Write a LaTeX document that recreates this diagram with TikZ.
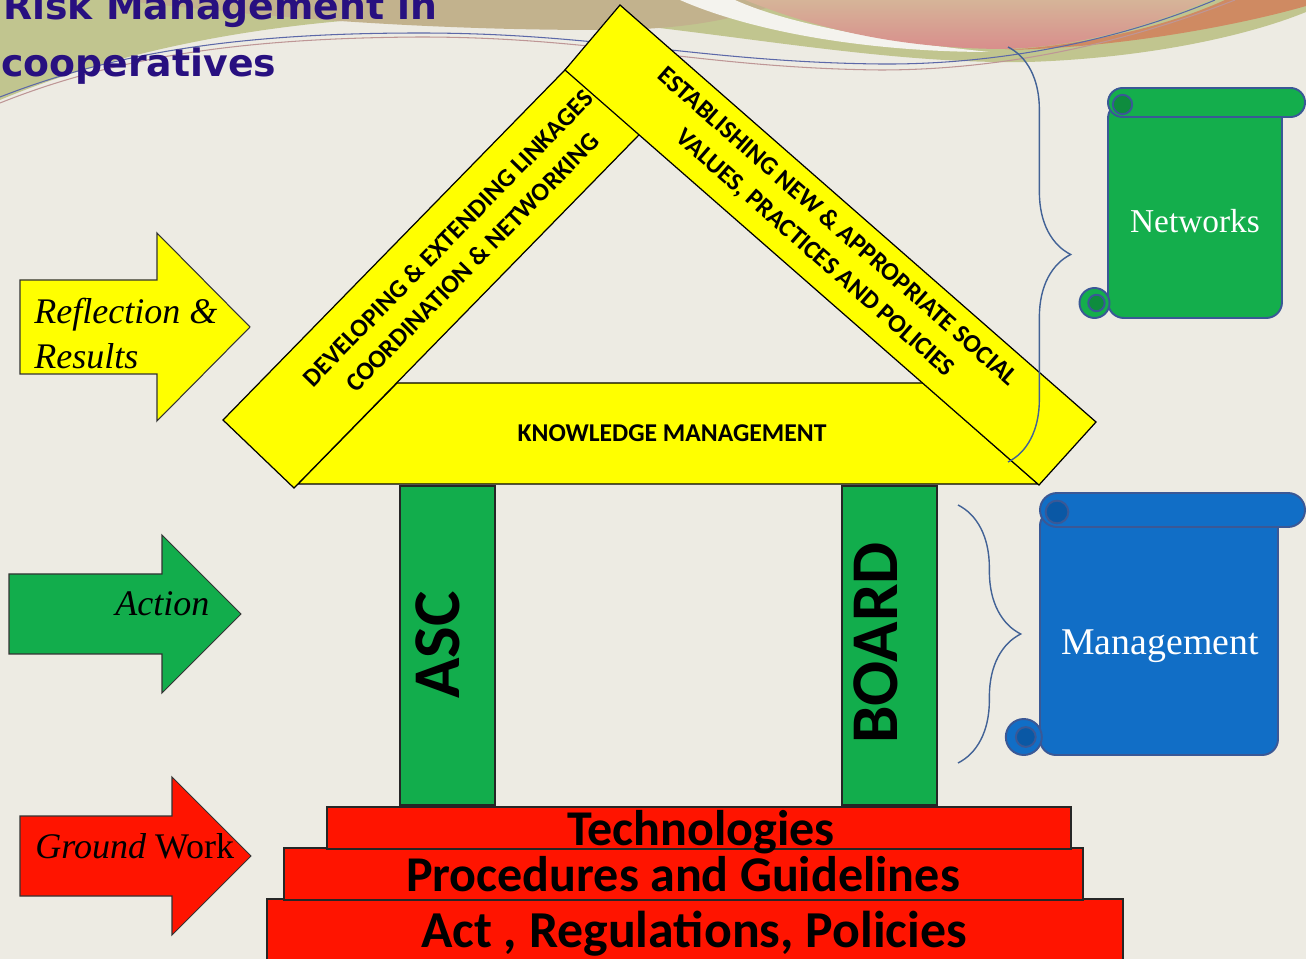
\documentclass[tikz,border=0pt]{standalone}
\usepackage{fontspec}
\usepackage{tikz}
\usetikzlibrary{positioning,calc,decorations.pathreplacing}
\setmainfont{Liberation Serif}
\newfontfamily\calibri{Carlito}
\newfontfamily\comic{DejaVu Sans}

\definecolor{paper}{RGB}{237,235,227}
\definecolor{tanband}{RGB}{194,178,141}
\definecolor{oliveband}{RGB}{193,197,143}
\definecolor{pinktop}{RGB}{214,180,152}
\definecolor{pinkband}{RGB}{216,142,140}
\definecolor{orangeband}{RGB}{207,138,98}
\definecolor{themeblue}{RGB}{92,104,168}
\definecolor{themerose}{RGB}{190,150,150}
\definecolor{titleink}{RGB}{40,16,128}
\definecolor{roofyellow}{RGB}{255,255,0}
\definecolor{pillargreen}{RGB}{18,173,76}
\definecolor{slabred}{RGB}{255,20,0}
\definecolor{scrollgreen}{RGB}{20,174,76}
\definecolor{curlgreen}{RGB}{14,140,62}
\definecolor{scrollblue}{RGB}{17,110,198}
\definecolor{curlblue}{RGB}{10,88,165}
\definecolor{scrollrim}{RGB}{58,88,150}
\definecolor{bracerim}{RGB}{66,98,150}

\tikzset{
	beam/.style={draw=black, line width=0.7pt, fill=roofyellow},
	pillar/.style={draw=black!85, line width=0.7pt, fill=pillargreen},
	slab/.style={draw=black!85, line width=0.7pt, fill=slabred},
	rim/.style={draw=scrollrim, line width=1.1pt},
	curly/.style={draw=bracerim, line width=0.8pt, decorate, decoration={brace, amplitude=35.7pt}},
	rooftext/.style={font=\calibri\bfseries\fontsize{14.6}{19.5}\selectfont, align=center, inner sep=0pt},
	pillartext/.style={font=\calibri\bfseries\fontsize{38}{40}\selectfont, inner sep=0pt, rotate=90, anchor=base},
	slabtext/.style={font=\calibri\bfseries\fontsize{28.5}{30}\selectfont, inner sep=0pt, anchor=base},
	arrowtext/.style={font=\itshape\fontsize{20.5}{25.5}\selectfont, inner sep=0pt},
	scrolltext/.style={text=white, inner sep=0pt, anchor=base},
	titletext/.style={font=\comic\bfseries\fontsize{21.5}{26}\selectfont, text=titleink, inner sep=0pt, anchor=base west}
}

\newcommand{\fatarrow}[7]
{
	% fill, tail x, neck x, tip x, middle y, half shaft, half head
	\path [draw=black!80, line width=0.6pt, fill=#1] (#2,#5-#6) -- (#3,#5-#6) -- (#3,#5-#7) -- (#4,#5) -- (#3,#5+#7) -- (#3,#5+#6) -- (#2,#5+#6) -- cycle;
}
\newcommand{\scroll}[8]
{
	% fill, curl fill, left x, roll top, roll height, right x, bottom y, curl radius
	\path [rim, fill=#1, rounded corners=9pt] (#3,#4+#5/2) rectangle (#6,#7);
	\path [rim, fill=#1] (1305-#5/2,#4) -- (#3+#5/2,#4) arc[start angle=270, end angle=90, radius=#5/2] -- (1305-#5/2,#4+#5) arc[start angle=90, end angle=-90, radius=#5/2] -- cycle;
	\path [rim, fill=#2] (#3+#5/2,#4+#5/2+2) circle[radius=#5/3];
	\path [rim, fill=#1] (#3-0.9*#8,#7-#8) circle[radius=#8];
	\path [rim, fill=#2] (#3-0.9*#8+2,#7-#8) circle[radius=#8*0.55];
}

\begin{document}
\begin{tikzpicture}[x=0.02cm, y=-0.02cm]
	\useasboundingbox (0,0) rectangle (1306,959);
	\clip (0,0) rectangle (1306,959);
	\fill[paper] (0,0) rectangle (1306,959);
	
	% theme bands
	\fill[oliveband] (0,0) -- (0,100) .. controls (130,45) and (300,15) .. (480,15) .. controls (650,15) and (850,65) .. (1028,62) .. controls (1150,58) and (1250,35) .. (1306,12) -- (1306,0) -- cycle;
	\fill[tanband] (120,0) .. controls (300,22) and (460,30) .. (600,30) .. controls (690,30) and (740,18) .. (790,0) -- cycle;
	\fill[paper!60!white] (680,0) .. controls (760,35) and (880,52) .. (990,52) .. controls (890,42) and (790,25) .. (735,0) -- cycle;
	\shade[top color=pinktop, bottom color=pinkband] (745,0) .. controls (820,30) and (900,48) .. (1000,49) .. controls (1080,48) and (1150,25) .. (1210,0) -- cycle;
	\fill[orangeband] (1005,50) .. controls (1120,48) and (1240,25) .. (1306,6) -- (1306,0) -- (1225,0) .. controls (1170,25) and (1090,45) .. (1005,50) -- cycle;
	\draw[themerose, line width=0.6pt] (0,103) .. controls (120,55) and (250,38) .. (420,37) .. controls (600,37) and (700,68) .. (880,70) .. controls (1000,70) and (1120,45) .. (1235,0);
	\draw[themeblue, line width=0.6pt] (0,97) .. controls (120,50) and (250,33) .. (420,33) .. controls (600,33) and (700,62) .. (880,64) .. controls (1000,65) and (1120,40) .. (1215,0);
	
	\node[titletext] (title1) at (3,20) {Risk Management in};
	\node[titletext] (title2) at (1,77) {cooperatives};
	
	% roof
	\path[beam] (298,484) -- (397,383) -- (923,383) -- (1038,484) -- cycle;
	\path[beam] (223,420) -- (294,488) -- (675,98) -- (604,30) -- cycle;
	\path[beam] (620,5) -- (1096,422) -- (1039,485) -- (565,70) -- cycle;
	\node[rooftext, rotate=45.7] (linkages) at (460,250) {DEVELOPING \& EXTENDING LINKAGES\\COORDINATION \& NETWORKING};
	\node[rooftext, rotate=-41.2] (values) at (826,240) {ESTABLISHING NEW \& APPROPRIATE SOCIAL\\VALUES, PRACTICES AND POLICIES};
	\node[rooftext] (km) at (672,433) {KNOWLEDGE MANAGEMENT};
	
	% pillars
	\path[pillar] (400,486) rectangle (495,805);
	\path[pillar] (842,486) rectangle (937,805);
	\node[pillartext] (asc) at (459,645) {ASC};
	\node[pillartext] (board) at (897,643) {BOARD};
	
	% base
	\path[slab] (267,899) rectangle (1123,962);
	\path[slab] (284,848) rectangle (1083,900);
	\path[slab] (327,807) rectangle (1071,849);
	\node[slabtext] (tech) at (701,845) {Technologies};
	\node[slabtext] (proc) at (683,891) {Procedures and Guidelines};
	\node[slabtext, font=\calibri\bfseries\fontsize{29.5}{31}\selectfont] (act) at (694,947) {Act , Regulations, Policies};
	
	% stages
	\fatarrow{roofyellow}{20}{157}{250}{327}{47}{94}
	\fatarrow{pillargreen}{9}{162}{241}{614}{40}{79}
	\fatarrow{slabred}{20}{172}{251}{856}{40}{79}
	\node[arrowtext, align=left, anchor=north west] (reflect) at (34,298) {Reflection \&\\Results};
	\node[arrowtext, anchor=base west] (action) at (115,616) {Action};
	\node[arrowtext, anchor=base west] (ground) at (35,858) {Ground {\upshape Work}};
	
	% braces
	\coordinate (nwtop) at (1008,47);
	\coordinate (nwbot) at (1008,462);
	\coordinate (mgtop) at (958,505);
	\coordinate (mgbot) at (958,763);
	\draw[curly] (nwtop) -- (nwbot);
	\draw[curly] (mgtop) -- (mgbot);
	
	% scrolls
	\scroll{scrollgreen}{curlgreen}{1108}{88}{29}{1282}{318}{15}
	\scroll{scrollblue}{curlblue}{1040}{493}{34}{1278}{755}{18}
	\node[scrolltext, font=\fontsize{19}{22}\selectfont] (networks) at (1195,233) {Networks};
	\node[scrolltext, font=\fontsize{21.5}{25}\selectfont] (mgmt) at (1160,655) {Management};
\end{tikzpicture}
\end{document}
